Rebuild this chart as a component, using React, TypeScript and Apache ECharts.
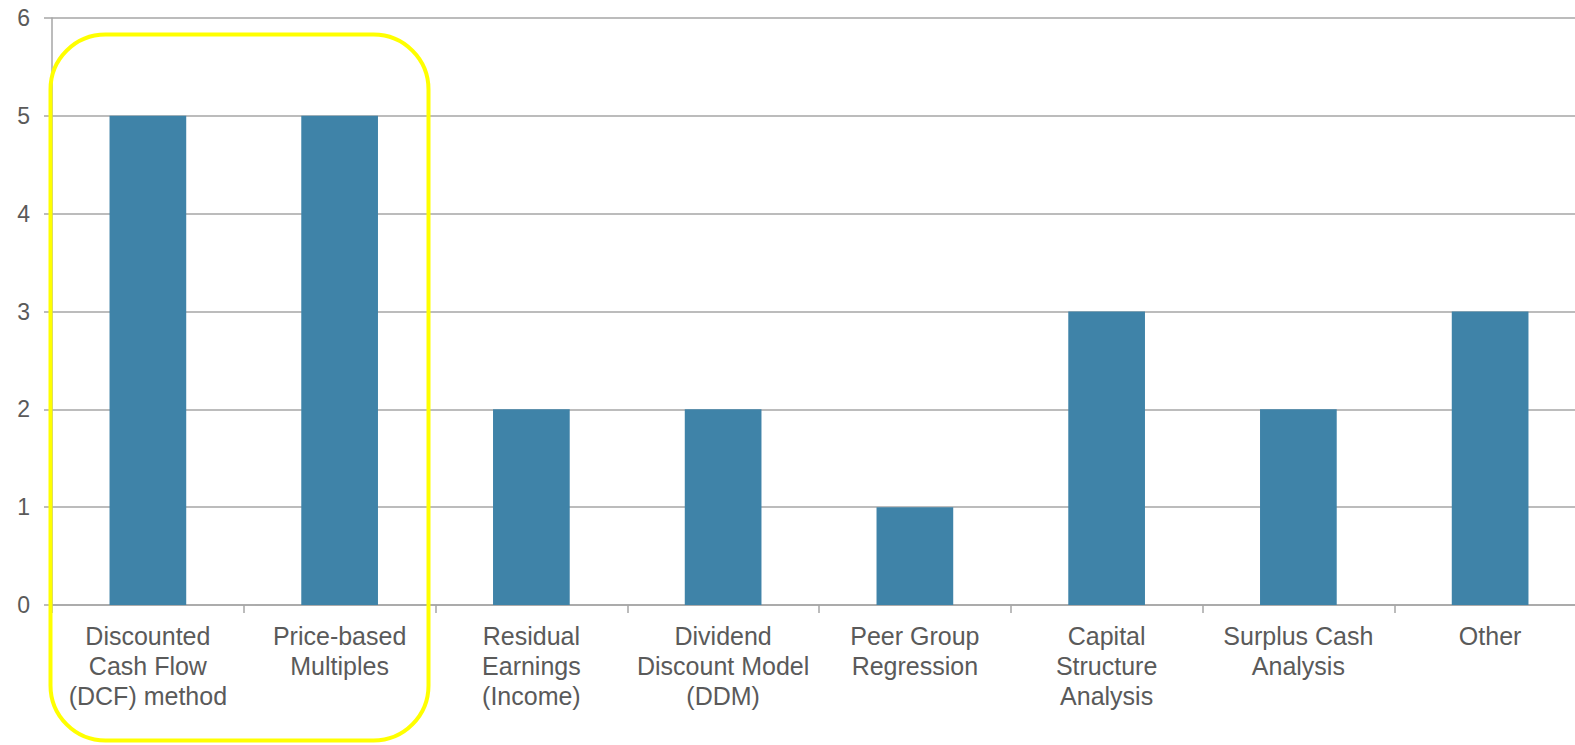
import React, { useEffect, useRef } from "react";
import * as echarts from "echarts";

const categories = [
  "Discounted\nCash Flow\n(DCF) method",
  "Price-based\nMultiples",
  "Residual\nEarnings\n(Income)",
  "Dividend\nDiscount Model\n(DDM)",
  "Peer Group\nRegression",
  "Capital\nStructure\nAnalysis",
  "Surplus Cash\nAnalysis",
  "Other",
];
const values = [5, 5, 2, 2, 1, 3, 2, 3];
const yTicks = { min: 0, max: 6, interval: 1 };

const FONT = "Arial";

export default function App() {
  const ref = useRef<HTMLDivElement>(null);
  useEffect(() => {
    const chart = echarts.init(ref.current!, null, { renderer: "svg" });
    const gray = "#a6a6a6";
    chart.setOption({
      animation: false,
      textStyle: { fontFamily: FONT },
      grid: {
        left: 52,
        width: 1534,
        top: 18,
        height: 587,
        containLabel: false,
        outerBoundsMode: "none",
      },
      xAxis: {
        type: "category",
        data: categories,
        axisLine: { lineStyle: { color: gray, width: 1.5 } },
        axisTick: { show: true, length: 8, lineStyle: { color: gray, width: 1.5 } },
        axisLabel: {
          color: "#5a5a5a",
          fontSize: 25,
          lineHeight: 30,
          margin: 16,
          interval: 0,
          fontFamily: FONT,
        },
      },
      yAxis: {
        type: "value",
        min: yTicks.min,
        max: yTicks.max,
        interval: yTicks.interval,
        axisLine: { show: true, lineStyle: { color: gray, width: 1.5 } },
        axisTick: { show: true, length: 8, lineStyle: { color: gray, width: 1.5 } },
        splitLine: { lineStyle: { color: gray, width: 1.5 } },
        axisLabel: {
          show: true,
          color: "#5a5a5a",
          fontSize: 23,
          margin: 22,
          fontFamily: FONT,
        },
      },
      series: [
        {
          type: "bar",
          data: values,
          barWidth: "40%",
          itemStyle: { color: "#3F83A8" },
        },
      ],
      graphic: [
        {
          type: "rect",
          left: 48,
          top: 32,
          z: 100,
          shape: { width: 378, height: 706, r: 55 },
          style: { fill: "none", stroke: "#FFFF00", lineWidth: 4 },
        },
      ],
    });
    return () => chart.dispose();
  }, []);
  return (
    <div
      ref={ref}
      style={{ position: "fixed", left: 0, top: 0, width: 1575, height: 745, background: "#fff" }}
    />
  );
}
